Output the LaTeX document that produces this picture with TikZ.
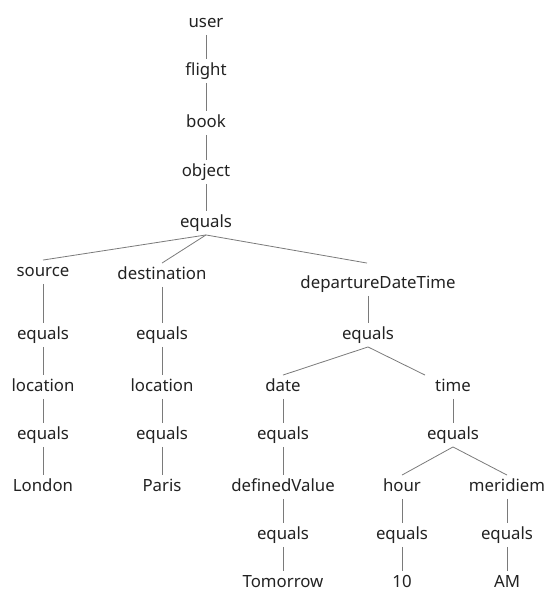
\documentclass[tikz,border=0pt]{standalone}
\usepackage{fontspec}
\setmainfont{Noto Sans}
\usepackage{tikz}
\usepackage{xcolor}
\definecolor{ink}{HTML}{222222}
\definecolor{wire}{HTML}{7A7A7A}

\begin{document}
\begin{tikzpicture}[
          x=1pt, y=-1pt,
          lbl/.style={font=\fontsize{16.8}{20}\selectfont, text=ink, text height=12pt, text depth=3.5pt, inner xsep=3pt, inner ysep=4pt},
          link/.style={draw=wire, line width=0.8pt}
      ]
        \useasboundingbox (0,0) rectangle (545,592);
        % spine
        \node[lbl] (user) at (206,23) {user};
        \node[lbl] (flight) at (206,71) {flight};
        \node[lbl] (book) at (206,123) {book};
        \node[lbl] (object) at (206,172) {object};
        \node[lbl] (eqroot) at (206,223) {equals};
        % source branch
        \node[lbl] (source) at (43,272) {source};
        \node[lbl] (srceq) at (43,335) {equals};
        \node[lbl] (srcloc) at (43,387) {location};
        \node[lbl] (srceqb) at (43,435) {equals};
        \node[lbl] (london) at (43,487) {London};
        % destination branch
        \node[lbl] (dest) at (162,275) {destination};
        \node[lbl] (dsteq) at (162,335) {equals};
        \node[lbl] (dstloc) at (162,387) {location};
        \node[lbl] (dsteqb) at (162,435) {equals};
        \node[lbl] (paris) at (162,487) {Paris};
        % departure branch
        \node[lbl] (ddt) at (378,284) {departureDateTime};
        \node[lbl] (ddteq) at (368,335) {equals};
        \node[lbl] (date) at (283,387) {date};
        \node[lbl] (dateeq) at (283,435) {equals};
        \node[lbl] (defval) at (283,487) {definedValue};
        \node[lbl] (defeq) at (283,535) {equals};
        \node[lbl] (tomorrow) at (283,583) {Tomorrow};
        \node[lbl] (time) at (453,387) {time};
        \node[lbl] (timeeq) at (453,435) {equals};
        \node[lbl] (hour) at (402,487) {hour};
        \node[lbl] (houreq) at (402,535) {equals};
        \node[lbl] (ten) at (402,583) {10};
        \node[lbl] (merid) at (507,487) {meridiem};
        \node[lbl] (mereq) at (507,535) {equals};
        \node[lbl] (am) at (507,583) {AM};

        \draw[link] (user.south) -- (flight.north);
        \draw[link] (flight.south) -- (book.north);
        \draw[link] (book.south) -- (object.north);
        \draw[link] (object.south) -- (eqroot.north);
        \draw[link] (eqroot.south) -- (source.north);
        \draw[link] (eqroot.south) -- (dest.north);
        \draw[link] (eqroot.south) -- ([xshift=-11pt, yshift=9pt]ddt.north);
        \draw[link] (source.south) -- (srceq.north);
        \draw[link] (srceq.south) -- (srcloc.north);
        \draw[link] (srcloc.south) -- (srceqb.north);
        \draw[link] (srceqb.south) -- (london.north);
        \draw[link] (dest.south) -- (dsteq.north);
        \draw[link] (dsteq.south) -- (dstloc.north);
        \draw[link] (dstloc.south) -- (dsteqb.north);
        \draw[link] (dsteqb.south) -- (paris.north);
        \draw[link] ([xshift=-10pt]ddt.south) -- (ddteq.north);
        \draw[link] (ddteq.south) -- (date.north);
        \draw[link] (ddteq.south) -- ([xshift=-28pt]time.north);
        \draw[link] (date.south) -- (dateeq.north);
        \draw[link] (dateeq.south) -- (defval.north);
        \draw[link] (defval.south) -- (defeq.north);
        \draw[link] (defeq.south) -- (tomorrow.north);
        \draw[link] (time.south) -- (timeeq.north);
        \draw[link] (timeeq.south) -- (hour.north);
        \draw[link] (timeeq.south) -- (merid.north);
        \draw[link] (hour.south) -- (houreq.north);
        \draw[link] (houreq.south) -- (ten.north);
        \draw[link] (merid.south) -- (mereq.north);
        \draw[link] (mereq.south) -- (am.north);
      \end{tikzpicture}
\end{document}
